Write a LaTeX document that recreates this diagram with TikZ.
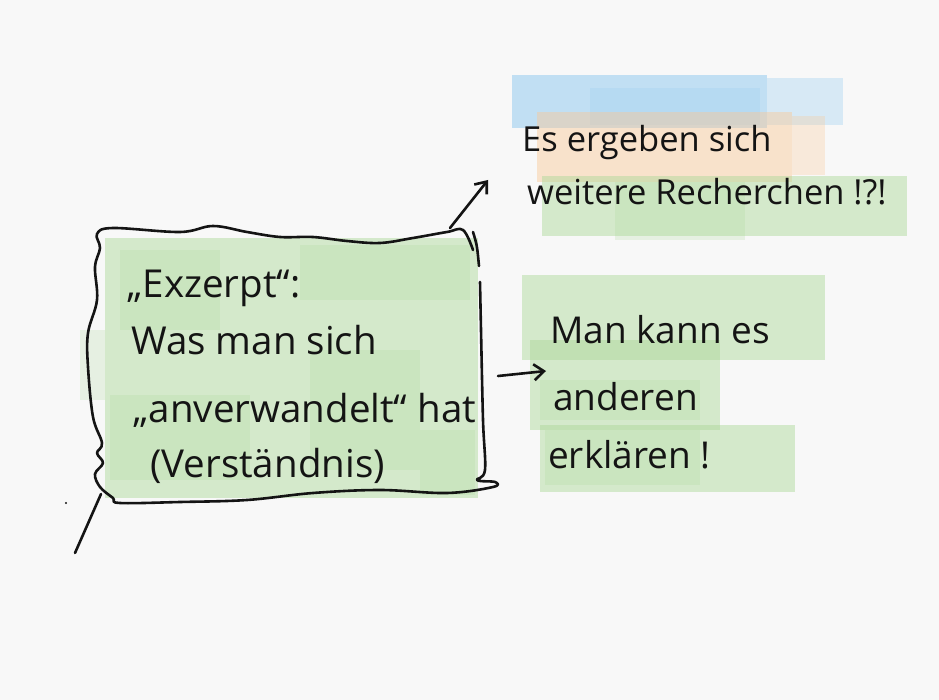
\documentclass[tikz,border=0pt]{standalone}
\usepackage{fontspec}
\setmainfont{Open Sans}
\usetikzlibrary{arrows.meta}
\definecolor{paper}{RGB}{248,248,248}
\definecolor{gwash}{RGB}{170,215,150}
\definecolor{bwash}{RGB}{140,200,240}
\definecolor{owash}{RGB}{250,200,150}
\definecolor{ink}{RGB}{20,20,20}
\tikzset{
  wash/.style={fill=gwash, opacity=0.45},
  washd/.style={fill=gwash, opacity=0.22},
  bluewash/.style={fill=bwash, opacity=0.5},
  orangewash/.style={fill=owash, opacity=0.45},
  hand/.style={font=\fontsize{#1}{#1}\selectfont, text=ink, inner sep=0pt, anchor=base west},
  hand/.default=38,
  pen/.style={draw=ink, line width=2.6pt, line cap=round, line join=round},
  penarrow/.style={pen, -{Straight Barb[length=10pt,width=16pt,line width=2.6pt]}},
  holder/.style={inner sep=0pt, minimum width=#1},
}
\begin{document}
\begin{tikzpicture}[x=1pt,y=-1pt]
\fill[paper] (0,0) rectangle (939,700);
\useasboundingbox (0,0) rectangle (939,700);

% ---- washes: box
\fill[wash] (105,238) rectangle (478,498);
\fill[washd] (120,250) rectangle (220,330);
\fill[washd] (300,245) rectangle (470,300);
\fill[washd] (110,395) rectangle (250,480);
\fill[washd] (310,350) rectangle (420,470);
\fill[washd] (420,430) rectangle (475,495);
\fill[washd] (80,330) rectangle (105,400);
% ---- washes: top right
\fill[bluewash] (512,75) rectangle (767,128);
\fill[bluewash, opacity=0.3] (767,78) rectangle (843,125);
\fill[bluewash, opacity=0.2] (590,88) rectangle (760,125);
\fill[orangewash] (537,112) rectangle (792,182);
\fill[orangewash, opacity=0.3] (792,116) rectangle (825,175);
\fill[wash] (542,176) rectangle (907,236);
\fill[washd] (615,182) rectangle (745,240);
% ---- washes: bottom right
\fill[wash] (522,275) rectangle (825,360);
\fill[wash] (530,340) rectangle (720,430);
\fill[wash] (540,425) rectangle (795,492);
\fill[washd] (540,380) rectangle (700,420);
\fill[washd] (545,430) rectangle (700,485);

% ---- hand-drawn box outline
\draw[pen] plot[smooth, tension=0.6] coordinates {
 (473,250) (463,230) (447,232) (413,238) (380,243) (347,241) (313,237)
 (280,237) (247,232) (213,226) (180,232) (113,228) (97,234) (100,248)
 (95,267) (97,300) (88,333) (88,367) (93,417) (102,443) (97,453)
 (103,463) (95,474) (100,487) (113,498) (120,503) (180,502) (247,500)
 (313,493) (380,490) (447,493) (493,487) (495,482) (477,480) (485,470)
 (483,420) (481,330) (480,282)};
\draw[pen] (473,232) .. controls (477,245) .. (479,266);

% ---- nodes
\node[holder=380pt, minimum height=260pt] (box) at (292,370) {};
\node[hand=38.5] (l1) at (127,298) {„Exzerpt“:};
\node[hand=38.5] (l2) at (131,354) {Was man sich};
\node[hand=38.5] (l3) at (133,422) {„anverwandelt“ hat};
\node[hand=38.5] (l4) at (150,477) {(Verständnis)};

\node[hand=34.5] (r1) at (522,152) {Es ergeben sich};
\node[hand=34.5] (r2) at (527,205) {weitere Recherchen !?!};

\node[hand=37] (m1) at (550,343) {Man kann es};
\node[hand=37] (m2) at (553,410) {anderen};
\node[hand=37] (m3) at (548,468) {erklären !};

% ---- connectors
\coordinate (a1) at (450,228);
\coordinate (a1e) at (488,180);
\draw[penarrow] (a1) -- (a1e);
\coordinate (a2) at (498,376);
\coordinate (a2e) at (546,371);
\draw[penarrow] (a2) -- (a2e);
\coordinate (b1) at (101,494);
\coordinate (b1e) at (75,553);
\draw[pen] (b1) -- (b1e);
\fill[ink] (66,503) circle (1.2pt);
\end{tikzpicture}
\end{document}
